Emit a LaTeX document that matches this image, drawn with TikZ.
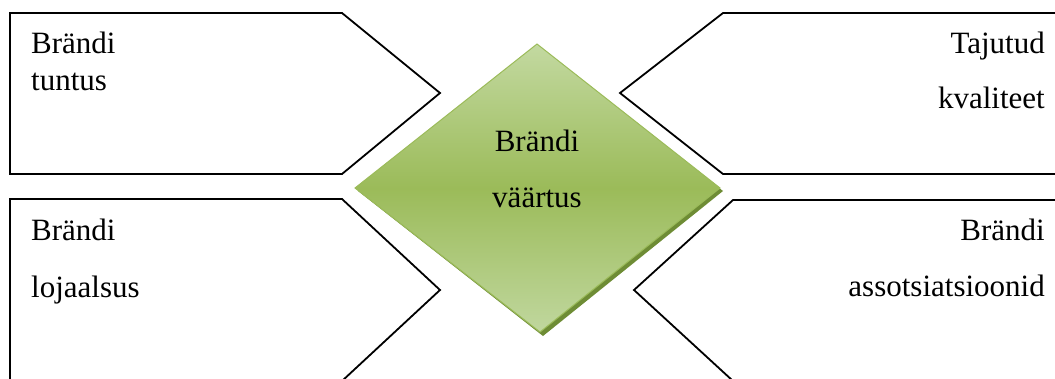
\documentclass[tikz,border=0pt]{standalone}
\usepackage{fontspec}
\setmainfont{Liberation Serif}
\newfontfamily\tnrfont{Liberation Serif}
\begin{document}
\begin{tikzpicture}[x=1pt,y=-1pt,
  arrowshape/.style={draw=black,line width=1.8pt,line join=miter,fill=white},
  lbl/.style={inner sep=0pt,font=\tnrfont\fontsize{31}{31}\selectfont},
  diamondfill/.style={top color=dtop,bottom color=dbot,middle color=dmid,draw=dedge,line width=1pt},
]
\definecolor{dtop}{HTML}{C3D9A1}
\definecolor{dmid}{HTML}{9BBB59}
\definecolor{dbot}{HTML}{C0D79E}
\definecolor{dedge}{HTML}{9BBB59}
\definecolor{dshadow}{HTML}{6E8C35}
\useasboundingbox (0,0) rectangle (1055,378);
\clip (0,0) rectangle (1055,378);
% top-left
\draw[arrowshape] (10,13) -- (342,13) -- (440,93) -- (342,174) -- (10,174) -- cycle;
% top-right
\draw[arrowshape] (1070,13) -- (723,13) -- (620,93) -- (723,174) -- (1070,174);
% bottom-left
\draw[arrowshape] (10,400) -- (10,199) -- (342,199) -- (440,290) -- (342,381) -- (342,400);
% bottom-right
\draw[arrowshape] (1070,200) -- (733,200) -- (634,290) -- (733,381);
% diamond shadow
\fill[dshadow] (540,47) -- (723,191) -- (543,336) -- (358,191) -- cycle;
% diamond
\path[diamondfill] (537,44) -- (720,188) -- (540,332) -- (355,188) -- cycle;
% texts
\node[lbl,anchor=base west] (tl1) at (31,53) {Brändi};
\node[lbl,anchor=base west] (tl2) at (31,90) {tuntus};
\node[lbl,anchor=base east] (tr1) at (1045,53) {Tajutud};
\node[lbl,anchor=base east] (tr2) at (1045,108) {kvaliteet};
\node[lbl,anchor=base west] (bl1) at (31,240) {Brändi};
\node[lbl,anchor=base west] (bl2) at (31,297) {lojaalsus};
\node[lbl,anchor=base east] (br1) at (1045,240) {Brändi};
\node[lbl,anchor=base east] (br2) at (1045,296) {assotsiatsioonid};
\node[lbl,anchor=base] (c1) at (537,151) {Brändi};
\node[lbl,anchor=base] (c2) at (537,207) {väärtus};
\end{tikzpicture}
\end{document}
